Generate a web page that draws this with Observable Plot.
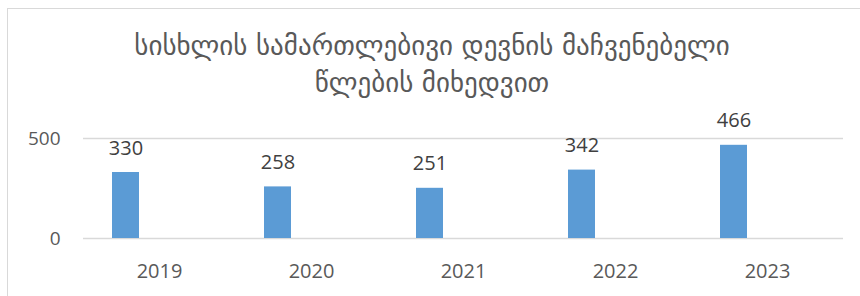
<!DOCTYPE html>
<html><head><meta charset="utf-8">
<script src="https://cdn.jsdelivr.net/npm/d3@7"></script>
<script src="https://cdn.jsdelivr.net/npm/@observablehq/plot@0.6"></script>
<style>
body{margin:0;background:#fff;width:860px;height:296px;overflow:hidden;position:relative;}
#frame{position:absolute;left:7px;top:8px;width:900px;height:300px;border-left:1px solid #d9d9d9;border-top:1px solid #d9d9d9;}
#title{position:absolute;left:7px;width:850px;top:27px;text-align:center;font-family:"DejaVu Sans";font-size:27px;line-height:37px;color:#595959;}
#chart{position:absolute;left:0;top:100px;}
</style></head><body>
<div id="frame"></div>
<div id="title">სისხლის სამართლებივი დევნის მაჩვენებელი<br>წლების მიხედვით</div>
<div id="chart"></div>
<script>
const years = ["2019","2020","2021","2022","2023"];
const values = [330,258,251,342,466];
const yTicks = [0,500];
const data = years.map((year,i)=>({year, value: values[i]}));
const chart = Plot.plot({
 width:860, height:196, marginLeft:83, marginRight:17, marginTop:38, marginBottom:58,
 style:{fontFamily:"'Open Sans', sans-serif", fontSize:"20px", color:"#595959", background:"transparent"},
 x:{domain:years, padding:0, label:null},
 y:{domain:[0,500], label:null},
 marks:[
  Plot.ruleY(yTicks,{stroke:"#d9d9d9", strokeWidth:1.5}),
  Plot.barY(data,{x:"year", y:"value", fill:"#5b9bd5", insetLeft:29, insetRight:96}),
  Plot.text(data,{x:"year", y:"value", text:d=>String(d.value), dx:-33.5, dy:-18, lineAnchor:"bottom", fill:"#404040", fontSize:20}),
  Plot.axisX({tickSize:0, tickPadding:25, fontSize:20}),
  Plot.axisY(yTicks, {tickSize:0, tickPadding:23, fontSize:19})
 ]
});
document.getElementById("chart").append(chart);
</script></body></html>
